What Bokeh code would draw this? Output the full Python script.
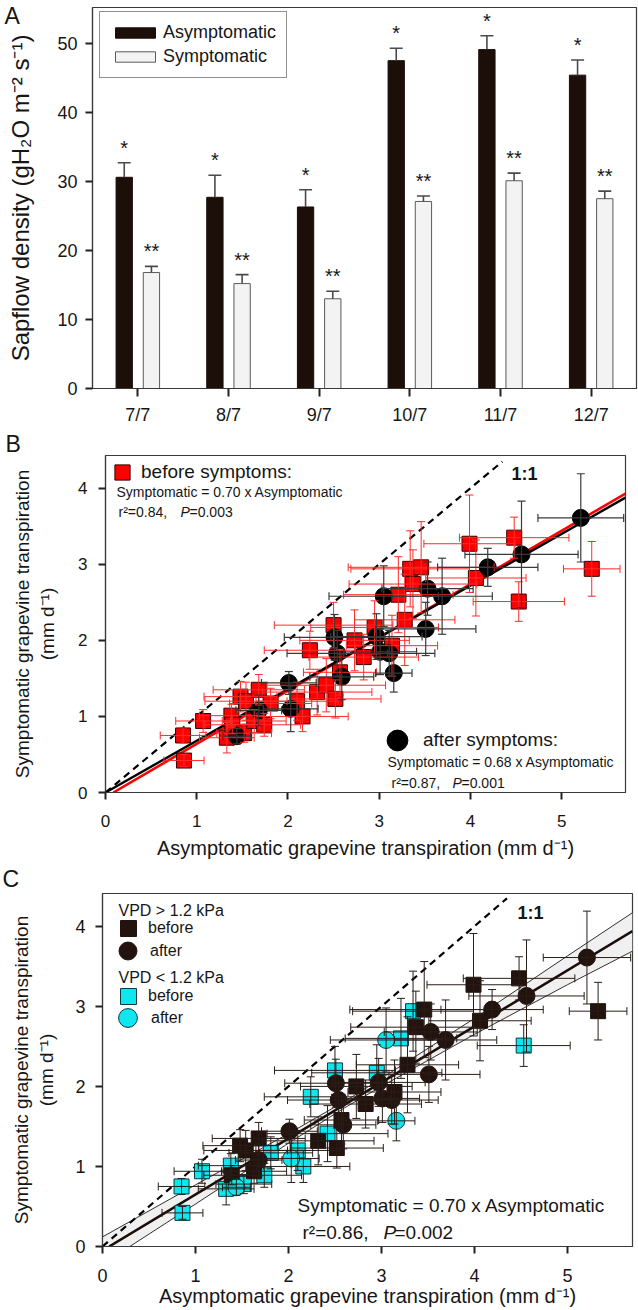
from bokeh.plotting import figure
from bokeh.models import (ColumnDataSource, FactorRange, Range1d, Whisker, TeeHead,
                          Legend, LegendItem, Label, FixedTicker, Band, Title)
from bokeh.transform import dodge
from bokeh.layouts import column
from bokeh.embed import file_html
from bokeh.resources import INLINE
from bokeh.core.properties import value

FONT = "Liberation Sans"
TXT = "#161616"

# ---------------- Panel A data ----------------
dates = ["7/7", "8/7", "9/7", "10/7", "11/7", "12/7"]
asym_mean = [30.6, 27.7, 26.3, 47.5, 49.1, 45.4]
asym_se = [2.1, 3.2, 2.5, 1.8, 2.0, 2.2]
sym_mean = [16.8, 15.2, 13.0, 27.1, 30.1, 27.5]
sym_se = [0.9, 1.3, 1.1, 0.8, 1.1, 1.1]
asym_sig = ["*", "*", "*", "*", "*", "*"]
sym_sig = ["**", "**", "**", "**", "**", "**"]
a_yticks = [0, 10, 20, 30, 40, 50]

# ---------------- Panels B/C data ----------------
# before symptoms (squares)
bef_x = [0.85, 0.86, 1.07, 1.33, 1.38, 1.39, 1.48, 1.52, 1.54, 1.63, 1.68, 1.74, 1.81,
         2.10, 2.16, 2.24, 2.32, 2.42, 2.50, 2.52, 2.57, 2.73, 2.83, 2.95, 3.14, 3.21,
         3.28, 3.34, 3.37, 3.46, 3.99, 4.06, 4.48, 4.53, 5.33]
bef_y = [0.75, 0.42, 0.94, 0.72, 1.01, 0.89, 1.26, 0.78, 1.20, 0.94, 1.35, 0.89, 1.17,
         1.20, 1.00, 1.87, 1.32, 1.41, 2.20, 1.23, 1.58, 2.00, 1.78, 2.17, 1.93, 2.60,
         2.27, 2.94, 2.74, 2.96, 3.27, 2.82, 3.35, 2.51, 2.94]
bef_xerr = [0.25, 0.22, 0.30, 0.30, 0.35, 0.30, 0.40, 0.30, 0.45, 0.35, 0.50, 0.40, 0.45,
            0.45, 0.50, 0.50, 0.60, 0.65, 0.65, 0.50, 0.40, 0.60, 0.60, 0.70, 0.50, 0.60,
            0.55, 0.65, 0.70, 0.80, 0.50, 0.55, 0.60, 0.50, 0.31]
bef_yerr = [0.10, 0.08, 0.15, 0.20, 0.15, 0.12, 0.20, 0.12, 0.25, 0.15, 0.20, 0.15, 0.20,
            0.25, 0.20, 0.25, 0.30, 0.35, 0.30, 0.25, 0.30, 0.40, 0.30, 0.35, 0.40, 0.50,
            0.60, 0.50, 0.45, 0.60, 0.64, 0.50, 0.27, 0.26, 0.36]
bef_vpd_high = [0, 0, 0, 0, 0, 1, 1, 0, 1, 1, 1, 0, 0,
                0, 0, 0, 1, 0, 0, 1, 1, 1, 1, 0, 1, 0,
                1, 0, 1, 1, 1, 1, 1, 0, 1]
# after symptoms (circles)
aft_x = [5.21, 4.56, 4.19, 3.69, 3.53, 3.05, 3.51, 2.51, 2.97, 2.54, 3.01, 3.11, 3.16,
         2.59, 2.01, 2.03, 1.68, 1.44]
aft_y = [3.61, 3.13, 2.96, 2.58, 2.68, 2.58, 2.15, 2.04, 2.05, 1.83, 1.85, 1.83, 1.57,
         1.52, 1.44, 1.10, 1.08, 0.74]
aft_xerr = [0.47, 0.62, 0.55, 0.55, 0.50, 0.60, 0.55, 0.55, 0.50, 0.55, 0.40, 0.50, 0.20,
            0.35, 0.30, 0.30, 0.25, 0.15]
aft_yerr = [0.58, 0.70, 0.25, 0.50, 0.35, 0.40, 0.35, 0.30, 0.30, 0.30, 0.30, 0.30, 0.25,
            0.30, 0.15, 0.30, 0.20, 0.10]
aft_vpd_high = [1, 1, 1, 1, 1, 0, 1, 1, 1, 1, 1, 1, 0, 1, 1, 0, 1, 0]

# regression fits: (slope, intercept)
fit_before = (0.70, -0.06)
fit_after = (0.68, 0.0)
fit_all = (0.70, -0.05)
one_to_one = [0.0, 4.35]
band_x = [0.0, 1.0, 2.0, 2.6, 3.0, 4.0, 5.0, 5.7]
band_lo = [-0.22, 0.53, 1.29, 1.73, 2.00, 2.65, 3.27, 3.69]
band_hi = [0.12, 0.77, 1.41, 1.81, 2.10, 2.85, 3.63, 4.17]
xticks = [0, 1, 2, 3, 4, 5]
yticks = [0, 1, 2, 3, 4]

X_TITLE = "Asymptomatic grapevine transpiration (mm d\u207b\u00b9)"
Y_TITLE = "Symptomatic grapevine transpiration\n(mm d\u207b\u00b9)"


def style_axes(p, tick_size, xlab_standoff=10, title_standoff=3):
    p.grid.visible = False
    p.outline_line_color = "#3a3a3a"
    p.outline_line_width = 1.2
    for ax in p.axis:
        ax.axis_line_color = "#3a3a3a"
        ax.axis_line_width = 1.2
        ax.major_tick_in = 0
        ax.major_tick_out = 7
        ax.major_tick_line_width = 2
        ax.major_tick_line_color = "#222222"
        ax.minor_tick_line_color = None
        ax.major_label_text_font = FONT
        ax.major_label_text_font_size = tick_size
        ax.major_label_text_color = TXT
        ax.axis_label_text_font = FONT
        ax.axis_label_text_font_style = "normal"
        ax.axis_label_text_color = TXT
    p.xaxis.major_label_standoff = xlab_standoff
    p.xaxis.axis_label_standoff = title_standoff


def panel_letter(p, text, offset, standoff):
    p.add_layout(Title(text=text, align="left", offset=offset, standoff=standoff,
                       text_font=FONT, text_font_size="23px", text_font_style="normal",
                       text_color=TXT), "above")


def lab(p, x, y, text, size, style="normal", align="left"):
    p.add_layout(Label(x=x, y=y, x_units="screen", y_units="screen", text=text,
                       text_font=FONT, text_font_size=size, text_font_style=style,
                       text_color=TXT, text_baseline="middle", text_align=align))


def key_legend(p, renderer, text, glyph, loc, standoff, size):
    lg = Legend(items=[LegendItem(label=text, renderers=[renderer])], location=loc,
                glyph_width=glyph, glyph_height=glyph, padding=0, margin=0, spacing=0,
                label_standoff=standoff, label_text_font=FONT, label_text_font_size=size,
                label_text_color=TXT, border_line_alpha=0, background_fill_alpha=0,
                label_height=10)
    p.add_layout(lg)


def err_src(xs, ys, xe, ye, keep=None):
    idx = [i for i in range(len(xs)) if keep is None or keep[i]]
    return ColumnDataSource(dict(
        x=[xs[i] for i in idx], y=[ys[i] for i in idx],
        x_lo=[xs[i] - xe[i] for i in idx], x_hi=[xs[i] + xe[i] for i in idx],
        y_lo=[ys[i] - ye[i] for i in idx], y_hi=[ys[i] + ye[i] for i in idx]))


def add_err(p, src, color, width=1.0):
    for dim, base, lo, hi in (("height", "x", "y_lo", "y_hi"), ("width", "y", "x_lo", "x_hi")):
        w = Whisker(source=src, base=base, lower=lo, upper=hi, dimension=dim,
                    line_color=color, line_width=width, level="glyph",
                    upper_head=TeeHead(size=8, line_color=color, line_width=width),
                    lower_head=TeeHead(size=8, line_color=color, line_width=width))
        p.add_layout(w)


# ================= Panel A =================
srcA = ColumnDataSource(dict(
    date=dates, asym=asym_mean, sym=sym_mean,
    asym_top=[m + e for m, e in zip(asym_mean, asym_se)],
    sym_top=[m + e for m, e in zip(sym_mean, sym_se)],
    asym_sig=asym_sig, sym_sig=sym_sig))

pa = figure(x_range=FactorRange(*dates, range_padding=0), y_range=Range1d(0, 55.2),
            width=638, height=428, output_backend="svg", toolbar_location=None,
            min_border_left=92, min_border_right=2, min_border_top=7, min_border_bottom=40)
pa.frame_align = False
style_axes(pa, "18px", xlab_standoff=8)
pa.xaxis.major_tick_out = 8
pa.yaxis.ticker = FixedTicker(ticks=a_yticks)
pa.yaxis.major_label_standoff = 8
pa.yaxis.axis_label = "Sapflow density (gH\u2082O m\u207b\u00b2 s\u207b\u00b9)"
pa.yaxis.axis_label_text_font_size = "24px"
pa.yaxis.axis_label_standoff = 20

xa = dodge("date", -0.15, range=pa.x_range)
xs_ = dodge("date", 0.15, range=pa.x_range)
ERR_A = "#4a4a4a"
for base, lo, hi in ((xa, "asym", "asym_top"), (xs_, "sym", "sym_top")):
    pa.add_layout(Whisker(source=srcA, base=base, lower=lo, upper=hi, level="glyph",
                          line_color=ERR_A, line_width=1.6, lower_head=None,
                          upper_head=TeeHead(size=13, line_color=ERR_A, line_width=1.6)))
ra = pa.vbar(x=xa, top="asym", width=0.18, source=srcA,
             fill_color="#1c0e09", line_color="#1c0e09")
rs = pa.vbar(x=xs_, top="sym", width=0.18, source=srcA,
             fill_color="#f3f3f3", line_color="#5a5a5a", line_width=1)
pa.text(x=xa, y="asym_top", text="asym_sig", source=srcA, text_align="center",
        text_baseline="middle", y_offset=-15, text_font=value(FONT),
        text_font_size="20px", text_color=TXT)
pa.text(x=xs_, y="sym_top", text="sym_sig", source=srcA, text_align="center",
        text_baseline="middle", y_offset=-15, text_font=value(FONT),
        text_font_size="20px", text_color=TXT)
legA = Legend(items=[LegendItem(label="Asymptomatic", renderers=[ra]),
                     LegendItem(label="Symptomatic", renderers=[rs])],
              location=(7, 310), glyph_width=50, glyph_height=13, padding=10,
              spacing=3, label_standoff=3, label_text_font=FONT,
              label_text_font_size="18px", label_text_color=TXT,
              border_line_color="#222222", border_line_width=1, margin=0)
pa.add_layout(legA)
panel_letter(pa, "A", -88, -42)

# ================= Panel B =================
pb = figure(x_range=Range1d(0, 5.7), y_range=Range1d(0, 4.43), width=638, height=434,
            output_backend="svg", toolbar_location=None,
            min_border_left=105, min_border_right=13, min_border_top=27, min_border_bottom=70)
pb.frame_align = False
style_axes(pb, "17px", xlab_standoff=15, title_standoff=7)
pb.xaxis.ticker = FixedTicker(ticks=xticks)
pb.yaxis.ticker = FixedTicker(ticks=yticks)
pb.yaxis.major_label_standoff = 11
pb.xaxis.axis_label = X_TITLE
pb.yaxis.axis_label = Y_TITLE
pb.xaxis.axis_label_text_font_size = "20px"
pb.yaxis.axis_label_text_font_size = "19px"
pb.yaxis.axis_label_standoff = 17

pb.line(one_to_one, one_to_one, line_color="black", line_width=2.2, line_dash="7 5")
sb, ib = fit_before
sa, ia = fit_after
pb.line([-ib / sb, 5.7], [0, sb * 5.7 + ib], line_color="#ff0000", line_width=2.6)
pb.line([-ia / sa, 5.7], [0, sa * 5.7 + ia], line_color="black", line_width=2.4)

src_bef = err_src(bef_x, bef_y, bef_xerr, bef_yerr)
src_aft = err_src(aft_x, aft_y, aft_xerr, aft_yerr)
add_err(pb, src_bef, "#ff2a2a", 1.0)
r_bef = pb.scatter("x", "y", source=src_bef, marker="square", size=15,
                   fill_color="#ff0000", line_color="#3a0000", line_width=1)
add_err(pb, src_aft, "#3a3a3a", 1.2)
r_aft = pb.scatter("x", "y", source=src_aft, marker="circle", size=17,
                   fill_color="black", line_color="black")

key_legend(pb, r_bef, "before symptoms:", 38, (-2, 301), -7, "19px")
key_legend(pb, r_aft, "after symptoms:", 52, (266, 26), -13, "19px")
lab(pb, 11, 301, "Symptomatic = 0.70 x Asymptomatic", "14px")
lab(pb, 13, 281, "r\u00b2=0.84,", "14px")
lab(pb, 75, 281, "P", "14px", style="italic")
lab(pb, 84, 281, "=0.003", "14px")
lab(pb, 282, 31, "Symptomatic = 0.68 x Asymptomatic", "14px")
lab(pb, 286, 10, "r\u00b2=0.87,", "14px")
lab(pb, 347, 10, "P", "14px", style="italic")
lab(pb, 356, 10, "=0.001", "14px")
lab(pb, 406, 319, "1:1", "18px", style="bold")
panel_letter(pb, "B", -100, -2)

# ================= Panel C =================
pc = figure(x_range=Range1d(0, 5.7), y_range=Range1d(0, 4.41), width=638, height=448,
            output_backend="svg", toolbar_location=None,
            min_border_left=102, min_border_right=6, min_border_top=31, min_border_bottom=64)
pc.frame_align = False
style_axes(pc, "18px", xlab_standoff=15, title_standoff=0)
pc.xaxis.ticker = FixedTicker(ticks=xticks)
pc.yaxis.ticker = FixedTicker(ticks=yticks)
pc.yaxis.major_label_standoff = 10
pc.xaxis.axis_label = X_TITLE
pc.yaxis.axis_label = Y_TITLE
pc.xaxis.axis_label_text_font_size = "20px"
pc.yaxis.axis_label_text_font_size = "19px"
pc.yaxis.axis_label_standoff = 15

src_band = ColumnDataSource(dict(x=band_x, lo=band_lo, hi=band_hi))
pc.add_layout(Band(source=src_band, base="x", lower="lo", upper="hi",
                   fill_color="#f0f0f0", fill_alpha=1, line_color=None, level="underlay"))
pc.line("x", "lo", source=src_band, line_color="#1a1a1a", line_width=0.9)
pc.line("x", "hi", source=src_band, line_color="#1a1a1a", line_width=0.9)
pc.line(one_to_one, one_to_one, line_color="black", line_width=2.2, line_dash="7 5")
sc, ic = fit_all
pc.line([-ic / sc, 5.7], [0, sc * 5.7 + ic], line_color="#1a0d08", line_width=2.6)

hi_b = [v == 1 for v in bef_vpd_high]
lo_b = [v == 0 for v in bef_vpd_high]
hi_a = [v == 1 for v in aft_vpd_high]
lo_a = [v == 0 for v in aft_vpd_high]
DARK = "#22130e"
CYAN = "#10e6ee"
ERR_C = "#2a1d18"
s_blo = err_src(bef_x, bef_y, bef_xerr, bef_yerr, lo_b)
s_bhi = err_src(bef_x, bef_y, bef_xerr, bef_yerr, hi_b)
s_ahi = err_src(aft_x, aft_y, aft_xerr, aft_yerr, hi_a)
s_alo = err_src(aft_x, aft_y, aft_xerr, aft_yerr, lo_a)
for s in (s_blo, s_bhi, s_ahi, s_alo):
    add_err(pc, s, ERR_C, 1.0)
r_blo = pc.scatter("x", "y", source=s_blo, marker="square", size=15,
                   fill_color=CYAN, line_color="#0b3b3d", line_width=1)
r_bhi = pc.scatter("x", "y", source=s_bhi, marker="square", size=15,
                   fill_color=DARK, line_color=DARK, line_width=1)
r_ahi = pc.scatter("x", "y", source=s_ahi, marker="circle", size=17,
                   fill_color=DARK, line_color=DARK)
r_alo = pc.scatter("x", "y", source=s_alo, marker="circle", size=17,
                   fill_color=CYAN, line_color="#0b3b3d", line_width=1)

lab(pc, 16, 336, "VPD > 1.2 kPa", "16px")
lab(pc, 16, 269, "VPD < 1.2 kPa", "16px")
key_legend(pc, r_bhi, "before", 40, (6, 298), -8, "16px")
key_legend(pc, r_ahi, "after", 45, (3, 273), -10, "16px")
key_legend(pc, r_blo, "before", 40, (6, 230), -8, "16px")
key_legend(pc, r_alo, "after", 47, (2, 205), -11, "16px")
lab(pc, 195, 41, "Symptomatic = 0.70 x Asymptomatic", "19px")
lab(pc, 200, 14, "r\u00b2=0.86,", "19px")
lab(pc, 281, 14, "P", "19px", style="italic")
lab(pc, 292, 14, "=0.002", "19px")
lab(pc, 415, 334, "1:1", "18px", style="bold")
panel_letter(pc, "C", -100, 3)

layout = column(pa, pb, pc, spacing=0)
open("out.html", "w").write(file_html(layout, INLINE))
